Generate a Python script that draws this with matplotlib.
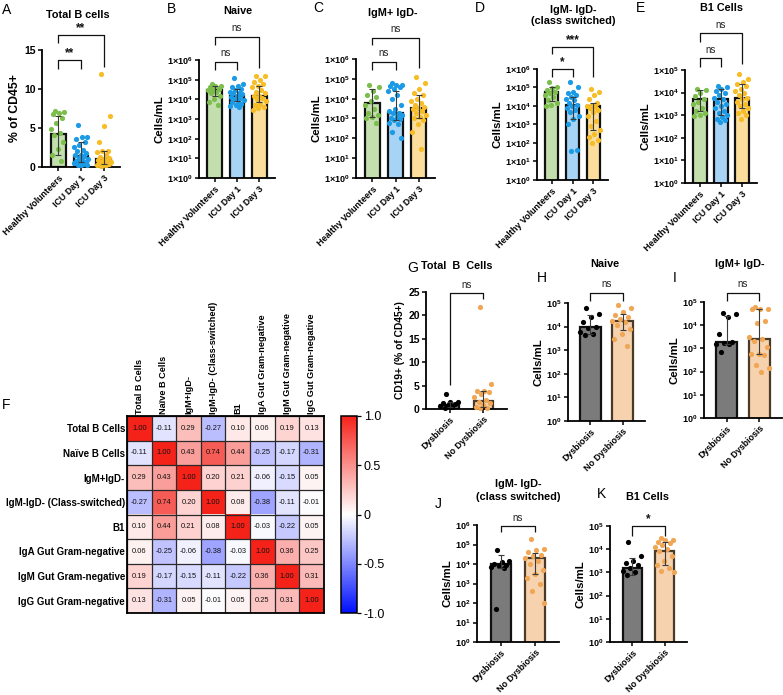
import numpy as np
import matplotlib
matplotlib.use('Agg')
import matplotlib.pyplot as plt
from matplotlib.ticker import FixedLocator, NullLocator, FuncFormatter
from matplotlib.colors import LinearSegmentedColormap

plt.rcParams['font.family'] = ['Liberation Sans', 'DejaVu Sans']
plt.rcParams['mathtext.default'] = 'regular'

# ---------------- data ----------------
icu_groups = ["Healthy Volunteers", "ICU Day 1", "ICU Day 3"]
dys_groups = ["Dysbiosis", "No Dysbiosis"]

# Panel A: Total B cells (% of CD45+)
a_hv = [7.2, 7.1, 6.9, 6.8, 6.3, 5.6, 4.9, 4.3, 4.1, 3.2, 2.3, 1.6, 0.8]
a_d1 = [5.4, 3.9, 3.8, 3.6, 3.2, 2.8, 2.6, 2.2, 2.0, 1.8, 1.6, 1.5, 1.4, 1.2, 1.0, 0.9, 0.8,
        0.7, 0.6, 0.5, 0.4, 0.3, 0.3, 0.2]
a_d3 = [11.9, 6.6, 5.2, 3.2, 2.0, 2.0, 1.9, 1.6, 1.3, 1.1, 1.0, 0.9, 0.8, 0.7, 0.6, 0.5, 0.5,
        0.4, 0.3, 0.3, 0.2, 0.1]
a_bar = [4.2, 1.4, 1.0]
a_lo = [1.6, 0.6, 0.4]
a_hi = [6.5, 3.2, 2.0]

# Panel B: Naive
b_hv = [6e4, 5e4, 4.5e4, 4e4, 3.5e4, 3e4, 3e4, 2.5e4, 2e4, 1.5e4, 1e4, 7e3, 5e3]
b_d1 = [1.2e5, 6e4, 5e4, 4e4, 3.5e4, 3e4, 2.5e4, 2e4, 2e4, 1.8e4, 1.5e4, 1.3e4, 1.2e4, 1e4,
        9e3, 8e3, 7e3, 6e3, 5e3, 4.5e3, 4e3]
b_d3 = [1.6e5, 1.5e5, 1e5, 8e4, 6e4, 5e4, 4e4, 3e4, 2.5e4, 2e4, 1.5e4, 1.4e4, 1.2e4, 1e4,
        8e3, 6e3, 5e3, 4e3, 3.5e3, 3e3]
b_bar = [3e4, 1.5e4, 1.5e4]
b_lo = [1.5e4, 8e3, 7e3]
b_hi = [4.5e4, 3.5e4, 5e4]

# Panel C: IgM+ IgD-
c_hv = [5e4, 4e4, 2.5e4, 1.5e4, 1.2e4, 8e3, 5e3, 3e3, 2e3, 1.5e3, 1.2e3, 1e3, 6e2]
c_d1 = [6e4, 5e4, 5e4, 4.5e4, 4e4, 3e4, 2.5e4, 1.5e4, 1e4, 5e3, 3e3, 2.5e3, 2e3, 1.8e3,
        1.5e3, 1.2e3, 1e3, 9e2, 8e2, 6e2, 5e2, 2e2, 1e2]
c_d3 = [1.3e5, 6e4, 3e4, 2e4, 1.5e4, 1e4, 8e3, 6e3, 5e3, 4e3, 3.5e3, 3e3, 2.5e3, 2e3,
        1.5e3, 1.2e3, 1e3, 8e2, 5e2, 2e2, 3e1]
c_bar = [6e3, 2e3, 3.5e3]
c_lo = [1.2e3, 8e2, 1e3]
c_hi = [3e4, 2.5e4, 1.5e4]

# Panel D: IgM- IgD- (class switched)
d_hv = [2e5, 1e5, 9e4, 7e4, 6e4, 5e4, 4e4, 3e4, 2e4, 1.5e4, 1.2e4, 1e4]
d_d1 = [2e5, 1e5, 6e4, 5e4, 4e4, 3e4, 2.5e4, 2e4, 1.5e4, 1.2e4, 1e4, 8e3, 6e3, 5e3, 3e3,
        2e3, 1e3, 4e1, 3.5e1]
d_d3 = [8e4, 6e4, 4e4, 2.5e4, 1.5e4, 1.2e4, 1e4, 9e3, 8e3, 6e3, 5e3, 3e3, 1.5e3, 8e2, 5e2,
        3e2, 2e2, 1.5e2, 1e2]
d_bar = [6e4, 1.2e4, 1e4]
d_lo = [1.8e4, 2e3, 5e2]
d_hi = [1e5, 3e4, 1.5e4]

# Panel E: B1 cells
e_hv = [1.5e4, 1.3e4, 1e4, 7e3, 5e3, 4e3, 3e3, 2e3, 1.5e3, 1.2e3, 1e3, 9e2]
e_d1 = [2e4, 1.8e4, 1.5e4, 1.2e4, 1e4, 8e3, 6e3, 5e3, 4e3, 3e3, 2.5e3, 2e3, 1.5e3, 1.2e3,
        1e3, 8e2, 7e2, 6e2, 5e2]
e_d3 = [7e4, 4e4, 3e4, 2.5e4, 2e4, 1.5e4, 1.2e4, 1e4, 8e3, 6e3, 5e3, 4e3, 3e3, 2.5e3, 2e3,
        1.5e3, 1.2e3, 1e3, 7e2]
e_bar = [5e3, 5e3, 6e3]
e_lo = [1.5e3, 1e3, 2e3]
e_hi = [1.3e4, 1.5e4, 2.5e4]

# Panel F: correlation matrix
corr_labels = ["Total B Cells", "Naïve B Cells", "IgM+IgD-", "IgM-IgD- (Class-switched)", "B1",
               "IgA Gut Gram-negative", "IgM Gut Gram-negative", "IgG Gut Gram-negative"]
corr = [
    [1.00, -0.11, 0.29, -0.27, 0.10, 0.06, 0.19, 0.13],
    [-0.11, 1.00, 0.43, 0.74, 0.44, -0.25, -0.17, -0.31],
    [0.29, 0.43, 1.00, 0.20, 0.21, -0.06, -0.15, 0.05],
    [-0.27, 0.74, 0.20, 1.00, 0.08, -0.38, -0.11, -0.01],
    [0.10, 0.44, 0.21, 0.08, 1.00, -0.03, -0.22, 0.05],
    [0.06, -0.25, -0.06, -0.38, -0.03, 1.00, 0.36, 0.25],
    [0.19, -0.17, -0.15, -0.11, -0.22, 0.36, 1.00, 0.31],
    [0.13, -0.31, 0.05, -0.01, 0.05, 0.25, 0.31, 1.00],
]
cbar_ticks = [-1.0, -0.5, 0.0, 0.5, 1.0]
cbar_ticklabels = ["-1.0", "-0.5", "0", "0.5", "1.0"]

# Panel G: Total B cells (CD19+ % of CD45+)
g_dys = [3.3, 1.6, 1.4, 1.2, 1.0, 0.8, 0.6, 0.5, 0.3]
g_nod = [21.8, 5.4, 3.9, 3.8, 3.7, 3.2, 2.5, 2.0, 1.5, 1.2, 0.8, 0.5, 0.3, 0.2]
g_bar = [0.8, 1.8]
g_lo = [0.4, 0.5]
g_hi = [1.5, 3.8]

# Panel H: Naive
h_dys = [6e4, 3.5e4, 2.5e4, 1.5e4, 1e4, 9e3, 6e3, 5e3, 4.5e3]
h_nod = [8e4, 6e4, 4e4, 3e4, 2.5e4, 2e4, 1.8e4, 1.5e4, 1.2e4, 8e3, 5e3, 3e3, 1.5e3]
h_bar = [1e4, 1.7e4]
h_lo = [5e3, 7e3]
h_hi = [3e4, 3.5e4]

# Panel I: IgM+ IgD-
i_dys = [3.5e4, 3e4, 2.2e4, 4e3, 1.8e3, 1.7e3, 1.6e3, 1.5e3, 7e2]
i_nod = [6e4, 5e4, 5e4, 5e4, 1.5e4, 1.2e4, 3e3, 2.5e3, 2e3, 1.2e3, 6e2, 6e2, 5e2, 2e2,
         1.5e2, 1e2]
i_bar = [1.8e3, 2.5e3]
i_lo = [1.5e3, 6e2]
i_hi = [2.5e4, 5e4]

# Panel J: IgM- IgD- (class switched)
j_dys = [5e4, 1.5e4, 1.2e4, 1e4, 9e3, 8e3, 7e3, 6e3, 5e1]
j_nod = [2e5, 6e4, 5e4, 4e4, 3e4, 2.5e4, 2e4, 1.5e4, 1e4, 5e3, 3e3, 2e3, 1e3, 4e2, 1e2]
j_bar = [1e4, 2e4]
j_lo = [6e3, 3e3]
j_hi = [3e4, 3.5e4]

# Panel K: B1 cells
k_dys = [2e4, 5e3, 3e3, 2.5e3, 2e3, 1.5e3, 1.2e3, 1e3, 8e2]
k_nod = [3e4, 2.5e4, 2.5e4, 2e4, 1.8e4, 1.5e4, 1.2e4, 1e4, 8e3, 5e3, 3e3, 2e3, 1.5e3,
         1.2e3, 1e3]
k_bar = [1.6e3, 8e3]
k_lo = [8e2, 2e3]
k_hi = [4e3, 2e4]

# ---------------- styling ----------------
ICU_DOT = ['#7cbd4c', '#1b9ae6', '#f6bd27']
ICU_BAR = ['#c3dfae', '#a7d3f4', '#fbde9b']
ICU_EDGE = ['#111111', '#111111', '#111111']
DYS_DOT = ['#000000', '#f0a654']
DYS_BAR = ['#7b7b7b', '#f6d3ae']
DYS_EDGE = ['#111111', '#4a3a28']

W, H = 783, 695
fig = plt.figure(figsize=(7.83, 6.95), dpi=100)


def px_axes(l, t, r, b):
    return fig.add_axes([l / W, 1 - b / H, (r - l) / W, (b - t) / H])


def spread(n, w):
    return np.array([((i * 0.61803398875 + 0.3) % 1.0 - 0.5) * w for i in range(n)])


def fmt_1x10(v, pos):
    if v <= 0:
        return ''
    return r'1×10$^{%d}$' % int(round(np.log10(v)))


def fmt_10(v, pos):
    if v <= 0:
        return ''
    return r'10$^{%d}$' % int(round(np.log10(v)))


def bracket(ax, x1, x2, top, lb, rb, text, stars):
    tr = ax.get_xaxis_transform()
    ax.plot([x1, x1, x2, x2], [lb, top, top, rb], transform=tr, color='#111111',
            lw=0.9, clip_on=False, solid_capstyle='butt')
    if stars:
        ax.text((x1 + x2) / 2, top + 0.005, text, transform=tr, ha='center', va='bottom',
                fontsize=8.5, fontweight='bold', color='#111111')
    else:
        ax.text((x1 + x2) / 2, top + 0.03, text, transform=tr, ha='center', va='bottom',
                fontsize=7, color='#222222')


def bar_panel(rect, names, groups, bars, lo, hi, dot_c, bar_c, edge_c, width, log, ylim,
              yticks, ylabel, fmt, brackets, tick_fs=6.0, dot_s=14, ylab_fs=8.2):
    ax = px_axes(*rect)
    n = len(names)
    x = np.arange(n)
    if log:
        ax.set_yscale('log')
    ax.bar(x, bars, width=width, color=bar_c, edgecolor=edge_c, linewidth=1.6, zorder=1)
    for i, g in enumerate(groups):
        g = np.asarray(g, dtype=float)
        ax.scatter(x[i] + spread(len(g), width * 1.0), g, s=dot_s, color=dot_c[i],
                   linewidths=0, zorder=3, clip_on=False)
    for i in range(n):
        ax.errorbar(x[i], bars[i], yerr=[[bars[i] - lo[i]], [hi[i] - bars[i]]],
                    fmt='none', ecolor='#3a3a3a', elinewidth=0.8, capsize=2.5,
                    capthick=0.8, zorder=4)
    ax.set_xlim(-0.7, n - 0.3)
    ax.set_ylim(*ylim)
    ax.yaxis.set_major_locator(FixedLocator(yticks))
    ax.yaxis.set_minor_locator(NullLocator())
    if fmt is not None:
        ax.yaxis.set_major_formatter(FuncFormatter(fmt))
    ax.set_xticks(x)
    ax.set_xticklabels(names, rotation=45, ha='right', rotation_mode='anchor',
                       fontsize=6.4, fontweight='bold')
    for lab in ax.get_yticklabels():
        lab.set_fontweight('bold')
        lab.set_fontsize(tick_fs)
    for s in ['top', 'right']:
        ax.spines[s].set_visible(False)
    for s in ['left', 'bottom']:
        ax.spines[s].set_linewidth(1.3)
    ax.tick_params(axis='both', length=3, width=1.1, pad=1.5)
    ax.set_ylabel(ylabel, fontsize=ylab_fs, fontweight='bold', labelpad=2)
    for b in brackets:
        bracket(ax, *b)
    return ax


icu_w = 0.65
# A
bar_panel((42, 50, 120, 167), icu_groups, [a_hv, a_d1, a_d3], a_bar, a_lo, a_hi,
          ICU_DOT, ICU_BAR, ICU_EDGE, icu_w, False, (0, 15), [0, 5, 10, 15], '% of CD45+',
          None, [(0, 1, 0.915, 0.84, 0.84, '**', True),
                 (0, 2, 1.128, 1.06, 0.855, '**', True)], tick_fs=7.5, ylab_fs=8.8)
# B
bar_panel((199, 60, 275, 178), icu_groups, [b_hv, b_d1, b_d3], b_bar, b_lo, b_hi,
          ICU_DOT, ICU_BAR, ICU_EDGE, icu_w, True, (1, 1e6), [10.0 ** k for k in range(7)],
          'Cells/mL', fmt_1x10, [(0, 1, 0.983, 0.915, 0.915, 'ns', False),
                                 (0, 2, 1.195, 1.127, 0.93, 'ns', False)], tick_fs=6.5)
# C
bar_panel((356, 59, 435, 178), icu_groups, [c_hv, c_d1, c_d3], c_bar, c_lo, c_hi,
          ICU_DOT, ICU_BAR, ICU_EDGE, icu_w, True, (1, 1e6), [10.0 ** k for k in range(7)],
          'Cells/mL', fmt_1x10, [(0, 1, 0.975, 0.908, 0.908, 'ns', False),
                                 (0, 2, 1.176, 1.118, 0.924, 'ns', False)], tick_fs=6.5)
# D
bar_panel((537, 69, 608, 180), icu_groups, [d_hv, d_d1, d_d3], d_bar, d_lo, d_hi,
          ICU_DOT, ICU_BAR, ICU_EDGE, icu_w, True, (1, 1e6), [10.0 ** k for k in range(7)],
          'Cells/mL', fmt_1x10, [(0, 1, 1.0, 0.93, 0.93, '*', True),
                                 (0, 2, 1.2, 1.135, 0.93, '***', True)], tick_fs=6.5)
# E
bar_panel((685, 70, 757, 183), icu_groups, [e_hv, e_d1, e_d3], e_bar, e_lo, e_hi,
          ICU_DOT, ICU_BAR, ICU_EDGE, icu_w, True, (1, 1e5), [10.0 ** k for k in range(6)],
          'Cells/mL', fmt_1x10, [(0, 1, 1.106, 1.027, 1.027, 'ns', False),
                                 (0, 2, 1.327, 1.248, 1.053, 'ns', False)], tick_fs=6.5)

# G
bar_panel((426, 292, 507, 409), dys_groups, [g_dys, g_nod], g_bar, g_lo, g_hi,
          DYS_DOT, DYS_BAR, DYS_EDGE, 0.56, False, (0, 25), [0, 5, 10, 15, 20, 25],
          'CD19+ (% of CD45+)', None, [(0, 1, 0.99, 0.205, 0.94, 'ns', False)],
          tick_fs=7.5, ylab_fs=7.4)
# H
bar_panel((568, 303, 645, 421), dys_groups, [h_dys, h_nod], h_bar, h_lo, h_hi,
          DYS_DOT, DYS_BAR, DYS_EDGE, 0.65, True, (1, 1e5), [10.0 ** k for k in range(6)],
          'Cells/mL', fmt_10, [(0, 1, 1.085, 1.017, 1.017, 'ns', False)], tick_fs=6.5)
# I
bar_panel((704, 302, 782, 418), dys_groups, [i_dys, i_nod], i_bar, i_lo, i_hi,
          DYS_DOT, DYS_BAR, DYS_EDGE, 0.65, True, (1, 1e5), [10.0 ** k for k in range(6)],
          'Cells/mL', fmt_10, [(0, 1, 1.078, 1.008, 1.008, 'ns', False)], tick_fs=6.5)
# J
bar_panel((477, 525, 559, 642), dys_groups, [j_dys, j_nod], j_bar, j_lo, j_hi,
          DYS_DOT, DYS_BAR, DYS_EDGE, 0.6, True, (1, 1e6), [10.0 ** k for k in range(7)],
          'Cells/mL', fmt_10, [(0, 1, 0.99, 0.94, 0.94, 'ns', False)], tick_fs=6.5)
# K
bar_panel((610, 526, 687, 642), dys_groups, [k_dys, k_nod], k_bar, k_lo, k_hi,
          DYS_DOT, DYS_BAR, DYS_EDGE, 0.62, True, (1, 1e5), [10.0 ** k for k in range(6)],
          'Cells/mL', fmt_10, [(0, 1, 1.0, 0.91, 0.91, '*', True)], tick_fs=6.5)

# ---------------- heatmap F ----------------
cmap = LinearSegmentedColormap.from_list('bwr2', ['#0010ff', '#ffffff', '#f5221a'])
axh = px_axes(127, 416, 324, 613)
cm = np.array(corr)
im = axh.imshow(cm, cmap=cmap, vmin=-1, vmax=1, aspect='auto', interpolation='nearest')
nlab = len(corr_labels)
for k in range(nlab + 1):
    axh.axhline(k - 0.5, color='#2a2a2a', lw=0.9)
    axh.axvline(k - 0.5, color='#2a2a2a', lw=0.9)
for r in range(nlab):
    for c in range(nlab):
        axh.text(c, r, '%.2f' % cm[r, c], ha='center', va='center', fontsize=5.4,
                 color='#111111')
axh.set_xticks(range(nlab))
axh.set_yticks(range(nlab))
axh.xaxis.tick_top()
axh.set_xticklabels(corr_labels, rotation=90, fontsize=6.6, fontweight='bold')
axh.set_yticklabels(corr_labels, fontsize=7.0, fontweight='bold')
axh.tick_params(length=0, pad=1.5)
for s in axh.spines.values():
    s.set_linewidth(1.3)

cax = px_axes(341, 416, 357, 613)
cb = fig.colorbar(im, cax=cax)
cb.set_ticks(cbar_ticks)
cb.set_ticklabels(cbar_ticklabels)
cb.ax.tick_params(labelsize=9, length=3, width=0.9, pad=2)
cb.outline.set_linewidth(1.1)

# ---------------- titles and panel letters ----------------
def ftext(x, y, s, **kw):
    fig.text(x / W, 1 - y / H, s, **kw)

letter_kw = dict(fontsize=10, ha='left', va='center')
title_kw = dict(fontsize=7.8, fontweight='bold', ha='center', va='center')

ftext(2, 10, 'A', **letter_kw)
ftext(78, 15, 'Total B cells', **title_kw)
ftext(167, 9, 'B', **letter_kw)
ftext(238, 11, 'Naive', **title_kw)
ftext(313, 8, 'C', **letter_kw)
ftext(393, 13, 'IgM+ IgD-', **title_kw)
ftext(475, 8, 'D', **letter_kw)
ftext(573, 10, 'IgM- IgD-', **title_kw)
ftext(573, 21, '(class switched)', **title_kw)
ftext(636, 8, 'E', **letter_kw)
ftext(722, 8, 'B1 Cells', **title_kw)
ftext(2, 405, 'F', **letter_kw)
ftext(407, 268, 'G', **letter_kw)
ftext(457, 266, 'Total  B  Cells', **title_kw)
ftext(537, 278, 'H', **letter_kw)
ftext(605, 264, 'Naive', **title_kw)
ftext(673, 278, 'I', **letter_kw)
ftext(740, 264, 'IgM+ IgD-', **title_kw)
ftext(435, 504, 'J', **letter_kw)
ftext(518, 484, 'IgM- IgD-', **title_kw)
ftext(518, 497, '(class switched)', **title_kw)
ftext(597, 494, 'K', **letter_kw)
ftext(648, 497, 'B1 Cells', **title_kw)

fig.savefig('out.png', dpi=100)
